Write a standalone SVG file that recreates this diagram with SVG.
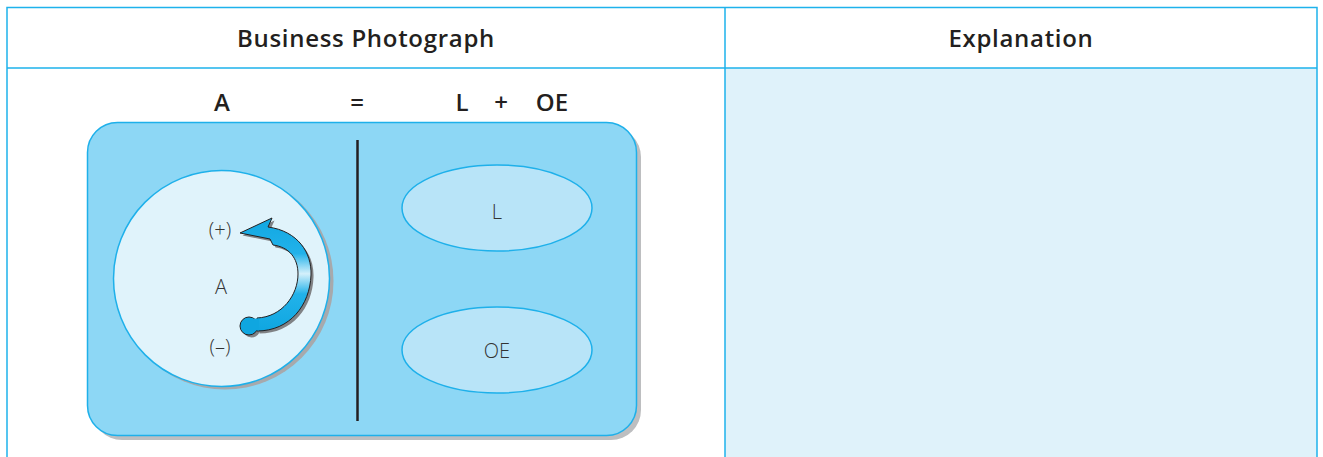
<svg xmlns="http://www.w3.org/2000/svg" width="1323" height="457" viewBox="0 0 1323 457">
<defs>
<style>
.hdr{font-family:"Open Sans",Lato,sans-serif;font-weight:600;font-size:24px;letter-spacing:0.7px;fill:#231F20;text-anchor:middle}
.eq{font-family:"Open Sans",Lato,sans-serif;font-weight:600;font-size:24px;fill:#231F20;text-anchor:middle}
.lbl{font-family:"Open Sans",Lato,sans-serif;font-weight:300;font-size:20px;fill:#333333;text-anchor:middle}
.grid{stroke:#1EB2EC;stroke-width:1.5;fill:none}
</style>
<linearGradient id="arrowGrad" gradientUnits="userSpaceOnUse" x1="0" y1="220" x2="0" y2="332">
<stop offset="0" stop-color="#12A8E2"/>
<stop offset="0.3" stop-color="#22B2EA"/>
<stop offset="0.48" stop-color="#D4F0FB"/>
<stop offset="0.66" stop-color="#22B2EA"/>
<stop offset="1" stop-color="#0FA6E0"/>
</linearGradient>
</defs>
<rect x="0" y="0" width="1323" height="457" fill="#FFFFFF"/>
<g id="table">
<rect x="725" y="68" width="592" height="395" fill="#DFF2FA"/>
<path class="grid" d="M7,463 V7.5 H1317 V463 M7,68 H1317 M725,7.5 V463"/>
<text class="hdr" x="366" y="47">Business Photograph</text>
<text class="hdr" x="1021" y="47">Explanation</text>
</g>
<g id="equation">
<text class="eq" x="222" y="111">A</text>
<text class="eq" x="357" y="111">=</text>
<text class="eq" x="462" y="111">L</text>
<text class="eq" x="501" y="111">+</text>
<text class="eq" x="552" y="111">OE</text>
</g>
<g id="photo-box">
<rect x="92" y="127" width="549" height="313" rx="30" fill="#BDBEC0"/>
<rect x="87.5" y="122.5" width="549" height="313" rx="30" fill="#8DD7F5" stroke="#1EB0EA" stroke-width="1.5"/>
<line x1="357.5" y1="140" x2="357.5" y2="421" stroke="#231F20" stroke-width="2.5"/>
</g>
<g id="assets">
<circle cx="225" cy="281" r="108.5" fill="#A7A9AC"/>
<circle cx="221.5" cy="278.5" r="108" fill="#E0F3FB" stroke="#1EB0EA" stroke-width="1.5"/>
<text class="lbl" x="220" y="237">(+)</text>
<text class="lbl" x="221" y="294">A</text>
<text class="lbl" x="220" y="354">(–)</text>
<g id="arrow">
<g transform="translate(2.5,2.5)" fill="#808285">
<path d="M240,233 L272,218 L268,227 C298,231 312,253 311,275 C310,305 290,331 257,331 L257,318 C282,317 298,295 298,274 C298,258 289,247 273,245 L270,239 Z"/>
<circle cx="249" cy="326" r="9"/>
</g>
<path d="M240,233 L272,218 L268,227 C298,231 312,253 311,275 C310,305 290,331 257,331 L257,318 C282,317 298,295 298,274 C298,258 289,247 273,245 L270,239 Z" fill="url(#arrowGrad)" stroke="#231F20" stroke-width="1" stroke-linejoin="miter"/>
<circle cx="249" cy="326" r="9" fill="#0FA6E0" stroke="#231F20" stroke-width="1"/>
<rect x="252" y="318.6" width="7" height="11.8" fill="#0FA6E0"/>
</g>
</g>
<g id="liabilities">
<ellipse cx="497" cy="208" rx="95" ry="43" fill="#B8E4F8" stroke="#1EB0EA" stroke-width="1.5"/>
<text class="lbl" x="497" y="219">L</text>
</g>
<g id="owners-equity">
<ellipse cx="497" cy="350" rx="95" ry="43" fill="#B8E4F8" stroke="#1EB0EA" stroke-width="1.5"/>
<text class="lbl" x="497" y="358">OE</text>
</g>
</svg>
